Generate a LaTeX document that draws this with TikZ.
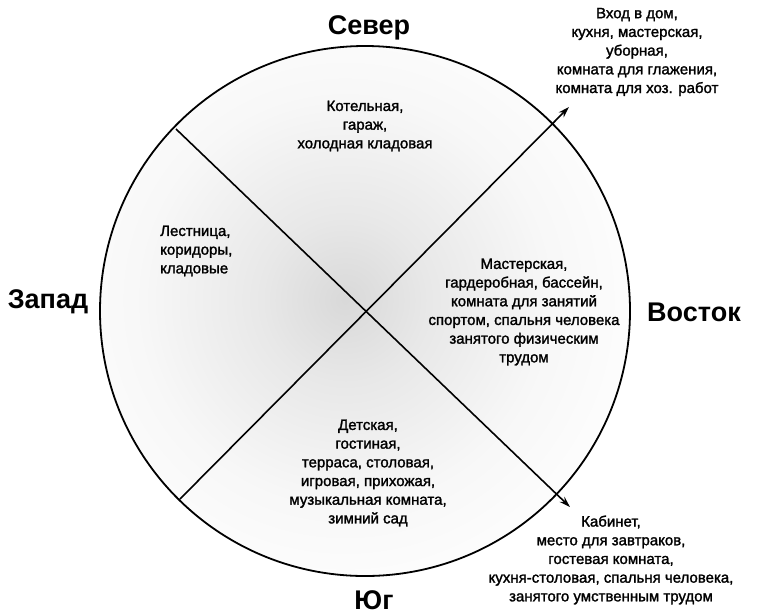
\documentclass[tikz,border=0pt]{standalone}
\usepackage{fontspec}
\setmainfont{Liberation Sans}
\newfontfamily\roomfont{Liberation Sans}[FakeBold=1.6]
\usetikzlibrary{arrows.meta}
\pgfdeclareradialshading{softgray}{\pgfpoint{0bp}{0bp}}{color(0bp)=(black!15); color(7bp)=(black!9); color(17bp)=(black!3); color(27bp)=(white); color(50bp)=(white)}
\begin{document}
\begin{tikzpicture}[x=1pt,y=-1pt,
  room/.style={align=center, font=\roomfont\fontsize{15}{18.7}\selectfont, inner sep=0pt},
  side/.style={font=\fontsize{27}{30}\selectfont\bfseries, inner sep=0pt},
  axisline/.style={line width=1.6pt},
  arr/.style={axisline, -{Stealth[length=11pt,width=7pt]}}]
\useasboundingbox (0,0) rectangle (757,614);
\coordinate (o) at (365,311);
\begin{scope}
\clip (o) circle (265);
\shade[shading=softgray] (345,300) circle (300);
\end{scope}
\draw[line width=1.8pt] (o) circle (265);
\coordinate (ul) at (176,129);
\coordinate (ll) at (180,499);
\coordinate (ur) at (569,107);
\coordinate (lr) at (570,507);
\draw[arr] (ul) -- (lr);
\draw[arr] (ll) -- (ur);
% direction labels
\node[side] (n) at (369,28) {Север};
\node[side] (w) at (48,302) {Запад};
\node[side] (e) at (694,312) {Восток};
\node[side] (s) at (374,600) {Юг};
% rooms
\node[room] (rn) at (365,126) {Котельная,\\гараж,\\холодная кладовая};
\node[room, align=left, anchor=west] (rw) at (160,251) {Лестница,\\коридоры,\\кладовые};
\node[room] (re) at (524,312) {Мастерская,\\гардеробная, бассейн,\\комната для занятий\\спортом, спальня человека\\занятого физическим\\трудом};
\node[room] (rs) at (368,473) {Детская,\\гостиная,\\терраса, столовая,\\игровая, прихожая,\\музыкальная комната,\\зимний сад};
\node[room] (rne) at (637,52) {Вход в дом,\\кухня, мастерская,\\уборная,\\комната для глажения,\\комната для хоз. работ};
\node[room] (rse) at (611,560) {Кабинет,\\место для завтраков,\\гостевая комната,\\кухня-столовая, спальня человека,\\занятого умственным трудом};
\end{tikzpicture}
\end{document}
